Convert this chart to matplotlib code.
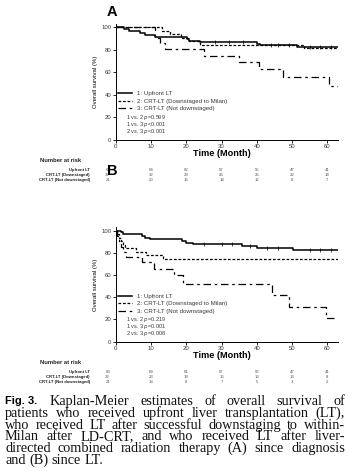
import matplotlib
matplotlib.use("Agg")
import matplotlib.pyplot as plt
from matplotlib.font_manager import FontProperties

plt.rcParams["font.family"] = ["Liberation Sans", "DejaVu Sans"]

# ---------------- survival data (step functions, % surviving) ----------------
# Panel A: since diagnosis
upfront_a_t = [0, 2.3, 3.7, 7.0, 8.4, 11.2, 20.2, 20.9, 24.0, 40.0, 41.0, 51.3]
upfront_a_s = [100, 98.6, 97.1, 94.6, 92.9, 91.3, 89.4, 87.9, 86.5, 85.0, 84.0, 82.3]
down_a_t = [0, 13.0, 15.5, 18.5, 20.8, 23.8, 53.5]
down_a_s = [100, 96.9, 93.8, 90.6, 87.5, 84.4, 81.2]
notdown_a_t = [0, 11.0, 12.5, 14.0, 25.0, 35.0, 40.5, 47.3, 60.5]
notdown_a_s = [100, 90.5, 85.7, 80.9, 74.5, 68.8, 63.0, 56.2, 48.0]

# Panel B: since LT
upfront_b_t = [0, 1.4, 2.2, 7.4, 8.4, 9.8, 18.7, 20.0, 22.0, 35.7, 40.0, 50.3]
upfront_b_s = [100, 98.4, 97.0, 95.4, 93.6, 92.3, 90.5, 88.8, 87.6, 86.2, 84.2, 82.6]
down_b_t = [0, 0.5, 1.0, 1.5, 2.0, 2.5, 5.8, 8.5, 13.5]
down_b_s = [100, 96.9, 93.8, 90.6, 87.5, 84.4, 81.2, 78.1, 74.8]
notdown_b_t = [0, 0.5, 1.0, 1.5, 2.0, 3.0, 7.5, 10.8, 16.5, 19.0, 44.3, 49.0, 59.5]
notdown_b_s = [100, 95.2, 90.5, 85.7, 81.0, 76.2, 71.4, 65.7, 59.7, 52.3, 41.9, 31.4, 21.0]

# censored observations on the upfront-LT curves
censor_a = [28, 32, 36, 44, 46, 49, 55, 58, 61]
censor_b = [25, 30, 33, 38, 43, 46, 55, 58, 61]

end_time = 63

series_labels = ["1: Upfront LT", "2: CRT-LT (Downstaged to Milan)",
                 "3: CRT-LT (Not downstaged)"]
pvalues_a = ["1 vs. 2 $p$=0.599", "1 vs. 3 $p$<0.001", "2 vs. 3 $p$<0.001"]
pvalues_b = ["1 vs. 2 $p$=0.219", "1 vs. 3 $p$=0.001", "2 vs. 3 $p$=0.008"]

# number at risk tables
risk_times = [0, 10, 20, 30, 40, 50, 60]
risk_rows = ["Upfront LT", "CRT-LT (Downstaged)", "CRT-LT (Not downstaged)"]
risk_a = [[69, 64, 62, 57, 55, 47, 41],
          [32, 32, 29, 26, 25, 22, 18],
          [21, 20, 16, 14, 12, 8, 7]]
risk_b = [[69, 64, 61, 57, 52, 47, 41],
          [32, 23, 19, 15, 13, 13, 8],
          [21, 13, 8, 7, 5, 3, 2]]

caption_lines = [
    "Kaplan-Meier estimates of overall survival of",
    "patients who received upfront liver transplantation (LT),",
    "who received LT after successful downstaging to within-",
    "Milan after LD-CRT, and who received LT after liver-",
    "directed combined radiation therapy (A) since diagnosis",
    "and (B) since LT.",
]

W, H = 349, 471
fig = plt.figure(figsize=(W / 100, H / 100), dpi=100)

styles = [dict(color="black", lw=1.1, ls="-"),
          dict(color="black", lw=0.9, ls=(0, (2.2, 1.4))),
          dict(color="black", lw=0.9, ls=(0, (6, 3, 2, 3)))]

grey = "#3a3a3a"


def km_panel(rect, curves, censor, pvals, letter, letter_y, risk, time_y, head_y, row_y):
    ax = fig.add_axes(rect)
    for (t, s), st in zip(curves, styles):
        tt = list(t) + [end_time]
        ss = list(s) + [s[-1]]
        ax.step(tt, ss, where="post", **st)
    # censor marks on the upfront curve
    t0, s0 = curves[0]
    cy = []
    for c in censor:
        val = s0[0]
        for ti, si in zip(t0, s0):
            if ti <= c:
                val = si
        cy.append(val)
    ax.plot(censor, cy, ls="none", marker="|", ms=2.2, mew=0.5, color="black")

    ax.set_xlim(0, end_time)
    ax.set_ylim(0, 103)
    ax.set_xticks(range(0, 61, 10))
    ax.set_yticks(range(0, 101, 20))
    for side in ("top", "right"):
        ax.spines[side].set_visible(False)
    for side in ("left", "bottom"):
        ax.spines[side].set_linewidth(0.7)
    ax.tick_params(length=2, width=0.6, labelsize=4.3, pad=1, colors="black",
                   labelcolor=grey)

    leg = ax.legend(series_labels, loc="upper left", bbox_to_anchor=(0.01, 0.42),
                    frameon=False, fontsize=4.4, handlelength=2.3,
                    handletextpad=0.9, labelspacing=0.35, borderaxespad=0,
                    borderpad=0)
    for txt in leg.get_texts():
        txt.set_color(grey)
    for i, p in enumerate(pvals):
        ax.text(0.045, 0.19 - i * 0.061, p, transform=ax.transAxes,
                fontsize=4.0, color=grey, va="center", ha="left")

    # axis titles
    ycen = rect[1] + rect[3] * 0.5
    fig.text(95 / W, ycen, "Overall survival (%)", rotation=90, ha="center",
             va="center", fontsize=4.3)
    fig.text(222 / W, 1 - time_y / H, "Time (Month)", ha="center", va="center",
             fontsize=6.6, fontweight="bold")
    fig.text(112 / W, 1 - letter_y / H, letter, ha="center", va="center",
             fontsize=10.5, fontweight="bold")

    # number at risk
    fig.text(40 / W, 1 - head_y / H, "Number at risk", ha="left", va="center",
             fontsize=4.2, fontweight="bold", color="#222222")
    for r, (name, vals) in enumerate(zip(risk_rows, risk)):
        yy = 1 - row_y[r] / H
        fig.text(90 / W, yy, name, ha="right", va="center", fontsize=3.1,
                 fontweight="bold", color="#222222")
        for k, (tm, v) in enumerate(zip(risk_times, vals)):
            xd = ax.transData.transform((tm, 0))[0]
            if k == 0:
                xd -= 8
            fig.text(xd / W, yy, str(v), ha="center", va="center",
                     fontsize=3.1, color="#555555")
    return ax


def frac_rect(left_px, right_px, top_px, bottom_px):
    return [left_px / W, 1 - bottom_px / H, (right_px - left_px) / W,
            (bottom_px - top_px) / H]


ax_a = km_panel(frac_rect(115.7, 338, 23.9, 139.8),
                [(upfront_a_t, upfront_a_s), (down_a_t, down_a_s),
                 (notdown_a_t, notdown_a_s)],
                censor_a, pvalues_a, "A", 12.3, risk_a, 154, 161,
                [169.6, 174.8, 180.0])
ax_b = km_panel(frac_rect(115.7, 338, 227.4, 341.5),
                [(upfront_b_t, upfront_b_s), (down_b_t, down_b_s),
                 (notdown_b_t, notdown_b_s)],
                censor_b, pvalues_b, "B", 170.7, risk_b, 355, 362,
                [371.6, 376.8, 382.0])

# ---------------- justified caption ----------------
renderer = fig.canvas.get_renderer()
serif = FontProperties(family=["Liberation Serif", "DejaVu Serif"], size=10.3)
bold_sans = FontProperties(family=["Liberation Sans", "DejaVu Sans"],
                           weight="bold", size=8.0)

x_left, x_right = 5, 345
line_y = [401.5, 413.3, 425.1, 436.9, 448.7, 460.5]


def width_px(s, fp):
    t = fig.text(0, 0, s, fontproperties=fp)
    w = t.get_window_extent(renderer).width
    t.remove()
    return w


space = width_px("a a", serif) - width_px("aa", serif)
for i, (line, ly) in enumerate(zip(caption_lines, line_y)):
    yy = 1 - ly / H
    start = x_left
    if i == 0:
        fig.text(x_left / W, yy, "Fig. 3.", fontproperties=bold_sans,
                 ha="left", va="center")
        start = 50
    words = line.split()
    widths = [width_px(w, serif) for w in words]
    if i < len(caption_lines) - 1 and len(words) > 1:
        gap = max((x_right - start - sum(widths)) / (len(words) - 1), space * 0.7)
    else:
        gap = space
    x = start
    for w, wd in zip(words, widths):
        fig.text(x / W, yy, w, fontproperties=serif, ha="left", va="center",
                 color="#111111")
        x += wd + gap

fig.savefig("out.png", dpi=100)
